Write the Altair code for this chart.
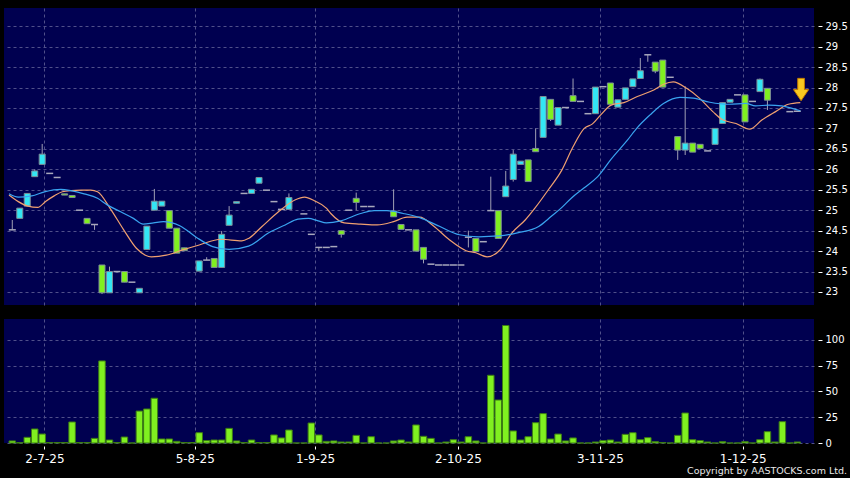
import altair as alt
import pandas as pd
import jinja2

# ---------------- data ----------------
open_ = [24.52, 24.80, 25.10, 25.82, 26.12, 25.90, 25.80, 25.40, 25.36, 25.00,
         24.80, 24.65, 23.66, 22.98, 23.50, 23.50, 23.24, 22.98, 24.04, 25.00,
         25.10, 24.99, 24.56, 24.08, None, 23.51, 23.78, 23.82, 23.60, 24.63,
         25.17, 25.41, 25.41, 25.66, 25.49, 25.21, 25.02, 25.02, None, 24.91,
         24.41, 24.09, 24.09, 24.11, 24.50, 25.00, 25.29, 25.09, 25.09, None,
         None, 24.98, 24.65, 24.52, 24.52, 24.09, 23.68, 23.66, 23.66, 23.66,
         23.66, 24.34, 24.31, 24.23, 24.99, 24.99, 25.33, 25.75, 26.12, 26.23,
         26.51, 26.78, 27.71, 27.08, 27.51, 27.80, 27.66, 27.36, 27.36, 28.02,
         28.11, 27.52, 27.71, 28.02, 28.22, 28.80, 28.62, 28.67, 28.25, 26.80,
         26.47, 26.64, 26.61, 26.45, 26.61, 27.12, 27.64, 27.82, 27.82, 27.66,
         27.90, 27.98, None, None, 27.41, 27.42]
high = [24.76, 25.05, 25.41, 26.00, 26.62, 25.90, 25.80, 25.40, 25.36, 25.00,
        24.80, 24.65, 23.66, 23.62, 23.50, 23.50, 23.24, 23.09, 24.61, 25.52,
        25.22, 24.99, 24.56, 24.08, None, 23.76, 23.85, 23.82, 24.49, 25.10,
        25.21, 25.41, 25.51, 25.80, 25.49, 25.21, 25.02, 25.41, None, 24.91,
        24.41, 24.09, 24.09, 24.11, 24.50, 25.00, 25.43, 25.09, 25.09, None,
        None, 25.51, 24.65, 24.52, 24.52, 24.09, 23.68, 23.66, 23.66, 23.66,
        23.66, 24.50, 24.31, 24.23, 25.82, 24.99, 25.96, 26.47, 26.20, 26.23,
        27.00, 27.78, 27.71, 27.51, 27.51, 28.22, 27.66, 27.36, 28.01, 28.02,
        28.11, 27.70, 27.99, 28.21, 28.72, 28.80, 28.62, 28.67, 28.25, 26.80,
        28.03, 26.64, 26.61, 26.45, 27.00, 27.63, 27.71, 27.82, 27.82, 27.66,
        28.22, 27.98, None, None, 27.41, 27.42]
low = [24.52, 24.80, 25.10, 25.82, 26.12, 25.90, 25.80, 25.37, 25.31, 25.00,
       24.67, 24.52, 22.95, 22.98, 23.50, 23.24, 23.24, 22.98, 24.04, 25.00,
       25.10, 24.56, 23.95, 24.01, None, 23.51, 23.78, 23.60, 23.60, 24.63,
       25.17, 25.41, 25.41, 25.66, 25.49, 25.21, 25.02, 25.02, None, 24.91,
       24.41, 24.00, 24.09, 24.11, 24.33, 25.00, 25.00, 25.09, 25.09, None,
       None, 24.84, 24.53, 24.52, 24.00, 23.70, 23.68, 23.66, 23.66, 23.66,
       23.66, 24.09, 23.99, 24.23, 24.99, 24.31, 25.33, 25.70, 26.12, 25.70,
       26.43, 26.78, 27.18, 27.08, 27.51, 27.66, 27.66, 27.36, 27.36, 28.02,
       27.59, 27.52, 27.71, 28.02, 28.22, 28.63, 28.35, 28.01, 28.25, 26.23,
       26.35, 26.42, 26.51, 26.45, 26.61, 27.12, 27.64, 27.82, 27.16, 27.66,
       27.90, 27.45, None, None, 27.41, 27.42]
close = [24.52, 25.05, 25.41, 25.96, 26.37, 25.90, 25.80, 25.37, 25.31, 25.00,
         24.67, 24.65, 22.98, 23.50, 23.50, 23.24, 23.24, 23.09, 24.61, 25.22,
         25.22, 24.56, 23.95, 24.01, None, 23.76, 23.78, 23.60, 24.41, 24.88,
         25.21, 25.41, 25.51, 25.80, 25.49, 25.21, 25.02, 25.31, None, 24.91,
         24.41, 24.09, 24.09, 24.11, 24.41, 25.00, 25.19, 25.09, 25.09, None,
         None, 24.84, 24.53, 24.52, 24.00, 23.80, 23.68, 23.66, 23.66, 23.66,
         23.66, 24.34, 23.99, 24.23, 24.99, 24.31, 25.59, 26.37, 26.20, 25.70,
         26.43, 27.78, 27.22, 27.51, 27.51, 27.66, 27.66, 27.36, 28.01, 28.02,
         27.59, 27.70, 27.99, 28.21, 28.41, 28.80, 28.40, 28.01, 28.25, 26.47,
         26.64, 26.42, 26.51, 26.45, 27.00, 27.63, 27.71, 27.82, 27.16, 27.66,
         28.20, 27.69, None, None, 27.41, 27.42]
volume = [2.0, 0.3, 5.5, 13.6, 8.7, 0.5, 0.5, 0.5, 20.4, 0.5,
          0.5, 4.5, 79.6, 2.9, 0.5, 5.8, 0.0, 31.0, 33.0, 43.4,
          3.9, 3.9, 1.6, 0.5, 0.5, 10.0, 2.3, 2.9, 2.9, 14.2,
          2.0, 0.5, 2.9, 0.5, 0.5, 7.8, 4.9, 12.6, 0.0, 0.0,
          19.4, 7.8, 1.6, 2.0, 1.0, 1.0, 7.4, 0.0, 6.1, 0.0,
          0.0, 2.0, 2.9, 1.0, 17.5, 6.5, 4.5, 0.0, 1.0, 3.2,
          1.0, 6.1, 2.0, 0.0, 65.7, 41.7, 114.0, 11.7, 2.9, 6.1,
          19.7, 28.5, 3.9, 8.7, 2.0, 4.9, 0.0, 0.0, 1.0, 2.3,
          2.9, 1.0, 8.4, 10.0, 3.2, 5.2, 1.3, 0.5, 0.0, 7.4,
          29.1, 3.2, 2.3, 1.0, 0.0, 1.3, 0.0, 0.0, 1.3, 0.0,
          3.2, 11.0, 1.0, 20.7, 0.0, 1.0]

# moving averages (read at sample points, x in bar-index units)
ma_short_x = [-0.44, 0.8, 2.1, 3.4, 4.5, 5.6, 6.7, 7.9, 9.2, 10.5, 11.4, 13.1, 14.9,
              16.6, 17.8, 18.6, 20.6, 22.8, 25.0, 27.9, 30.7, 31.6, 33.4, 35.6, 37.8,
              39.1, 40.4, 42.0, 42.6, 44.4, 46.6, 48.8, 51.0, 52.8, 54.5, 56.3, 58.5,
              60.7, 62.0, 63.5, 65.3, 66.8, 68.6, 69.9, 71.7, 73.5, 75.0, 76.5, 77.6,
              78.7, 80.1, 81.8, 83.6, 85.8, 87.1, 88.4, 90.2, 91.9, 93.7, 95.0, 96.8,
              98.6, 100.3, 102.1, 103.8, 105.4]
ma_short_y = [25.37, 25.21, 25.10, 25.07, 25.22, 25.35, 25.45, 25.48, 25.49, 25.49, 25.45, 25.04, 24.52,
              24.07, 23.90, 23.86, 23.90, 24.03, 24.15, 24.29, 24.25, 24.31, 24.60, 24.96, 25.25,
              25.32, 25.23, 25.05, 24.92, 24.69, 24.66, 24.64, 24.72, 24.83, 24.83, 24.62, 24.27,
              24.01, 23.96, 23.86, 24.04, 24.44, 24.76, 25.05, 25.50, 25.98, 26.55, 27.00, 27.11,
              27.33, 27.57, 27.63, 27.78, 27.94, 28.08, 28.14, 27.98, 27.74, 27.41, 27.21, 27.12,
              26.98, 27.21, 27.41, 27.59, 27.63]
ma_long_x = [-0.44, 0.8, 2.6, 4.3, 6.5, 7.8, 9.6, 11.4, 12.7, 14.5, 16.2, 17.5, 18.9,
             20.2, 22.4, 24.6, 26.8, 29.0, 31.6, 34.3, 36.5, 38.2, 39.6, 40.9, 42.0,
             43.95, 46.6, 48.4, 50.1, 52.3, 54.5, 57.2, 59.8, 62.4, 65.1, 67.7, 70.4,
             72.1, 73.4, 74.8, 76.5, 78.3, 80.1, 82.3, 83.6, 85.3, 87.1, 89.3, 91.1,
             93.3, 95.9, 98.1, 99.4, 101.2, 102.9, 104.3, 105.4]
ma_long_y = [25.40, 25.32, 25.35, 25.45, 25.51, 25.48, 25.40, 25.29, 25.13, 24.96, 24.80, 24.66, 24.69,
             24.72, 24.62, 24.34, 24.11, 24.04, 24.12, 24.45, 24.64, 24.78, 24.80, 24.74, 24.69,
             24.74, 24.92, 24.99, 24.99, 24.92, 24.82, 24.60, 24.40, 24.35, 24.37, 24.45, 24.60,
             24.85, 25.05, 25.30, 25.55, 25.82, 26.25, 26.72, 27.02, 27.33, 27.61, 27.76, 27.74,
             27.64, 27.59, 27.61, 27.55, 27.57, 27.55, 27.49, 27.43]

tick_pos = [4.3, 24.4, 40.5, 59.6, 78.6, 97.7]
tick_lbl = ["2-7-25", "5-8-25", "1-9-25", "2-10-25", "3-11-25", "1-12-25"]
price_ticks = [23, 23.5, 24, 24.5, 25, 25.5, 26, 26.5, 27, 27.5, 28, 28.5, 29, 29.5]
vol_ticks = [0, 25, 50, 75, 100]
price_domain = [22.682, 29.944]
vol_domain = [0, 120.3]
x_domain = [-0.44, 106.56]
marker_x = [105.5]
marker_y = [27.95]
copyright = ["Copyright by AASTOCKS.com Ltd."]

# ---------------- styling ----------------
BG = "#000000"
PANEL = "#000050"
GRID = "#50508a"
CYAN = "#33e6f4"
GREEN = "#80f020"
WICK = "#a0a0b4"
FLAT = "#a8a8bc"
ORANGE = "#f0a070"
BLUE = "#3aa4f0"
FONT = "DejaVu Sans"

n = len(volume)
df = pd.DataFrame({"i": list(range(n)), "o": open_, "h": high, "l": low, "c": close, "v": volume})


def kind(r):
    if pd.isna(r["o"]):
        return None
    if r["c"] > r["o"]:
        return "up"
    if r["c"] < r["o"]:
        return "down"
    return "flat"


df["kind"] = df.apply(kind, axis=1)
candles = df.dropna(subset=["o"])
bodies = candles[candles["kind"] != "flat"]
flats = candles[candles["kind"] == "flat"]

xscale = alt.Scale(domain=x_domain, nice=False, zero=False)
pscale = alt.Scale(domain=price_domain, nice=False, zero=False)
vscale = alt.Scale(domain=vol_domain, nice=False, zero=False)

x_price_axis = alt.Axis(values=tick_pos, labels=False, ticks=False, domain=False,
                        grid=True, title=None)
y_price_axis = alt.Axis(orient="right", values=price_ticks, format="~g", offset=4,
                        tickSize=4, labelPadding=3, labelFontSize=10, grid=True,
                        domain=False, title=None)

label_expr = " : ".join(
    f"abs(datum.value - {p}) < 0.01 ? '{l}'" for p, l in zip(tick_pos, tick_lbl)
) + " : ''"
x_vol_axis = alt.Axis(values=tick_pos, labelExpr=label_expr, grid=True, ticks=True,
                      tickSize=3, offset=3, labelPadding=4, labelFontSize=12,
                      domain=False, title=None)
y_vol_axis = alt.Axis(orient="right", values=vol_ticks, offset=4, tickSize=4,
                      labelPadding=3, labelFontSize=10, grid=True, domain=False,
                      title=None)

W = 810

wicks = alt.Chart(candles).mark_rule(color=WICK, strokeWidth=1).encode(
    x=alt.X("i:Q", scale=xscale, axis=x_price_axis),
    y=alt.Y("l:Q", scale=pscale, axis=y_price_axis),
    y2="h:Q",
)
body = alt.Chart(bodies).mark_bar(size=6, stroke="#7c8c96", strokeWidth=1).encode(
    x=alt.X("i:Q", scale=xscale, axis=x_price_axis),
    y=alt.Y("o:Q", scale=pscale, axis=y_price_axis),
    y2="c:Q",
    color=alt.Color("kind:N", scale=alt.Scale(domain=["up", "down"], range=[CYAN, GREEN]),
                    legend=None),
)
flat = alt.Chart(flats).mark_tick(orient="horizontal", size=7, thickness=1.5,
                                  color=FLAT, opacity=1).encode(
    x=alt.X("i:Q", scale=xscale, axis=x_price_axis),
    y=alt.Y("c:Q", scale=pscale, axis=y_price_axis),
)
ma_short = alt.Chart(pd.DataFrame({"x": ma_short_x, "y": ma_short_y})).mark_line(
    color=ORANGE, strokeWidth=1.2, interpolate="monotone").encode(
    x=alt.X("x:Q", scale=xscale, axis=x_price_axis),
    y=alt.Y("y:Q", scale=pscale, axis=y_price_axis),
)
ma_long = alt.Chart(pd.DataFrame({"x": ma_long_x, "y": ma_long_y})).mark_line(
    color=BLUE, strokeWidth=1.2, interpolate="monotone").encode(
    x=alt.X("x:Q", scale=xscale, axis=x_price_axis),
    y=alt.Y("y:Q", scale=pscale, axis=y_price_axis),
)
arrow_path = "M -0.3 -1 L 0.3 -1 L 0.3 0 L 0.68 0 L 0 1 L -0.68 0 L -0.3 0 Z"
arrow = alt.Chart(pd.DataFrame({"x": marker_x, "y": marker_y})).mark_point(
    shape=arrow_path, size=500, filled=True, fill="#f8c820", stroke="#c07800",
    strokeWidth=1, opacity=1).encode(
    x=alt.X("x:Q", scale=xscale, axis=x_price_axis),
    y=alt.Y("y:Q", scale=pscale, axis=y_price_axis),
)

price = alt.layer(wicks, body, flat, ma_short, ma_long, arrow).properties(width=W, height=297)

vbars = alt.Chart(df).mark_bar(size=6.5, color=GREEN, stroke="#3c7c14", strokeWidth=1).encode(
    x=alt.X("i:Q", scale=xscale, axis=x_vol_axis),
    y=alt.Y("v:Q", scale=vscale, axis=y_vol_axis),
)
ctext = alt.Chart(pd.DataFrame({"t": copyright})).mark_text(
    align="right", baseline="middle", fontSize=9.5, color="#e8e8e8", font=FONT).encode(
    x=alt.value(843), y=alt.value(152), text="t:N")

vol = alt.layer(vbars, ctext).properties(width=W, height=124)

chart = alt.vconcat(price, vol, spacing=14).properties(
    background=BG,
    padding={"left": 4, "top": 8, "right": 0, "bottom": 0},
).configure_view(stroke=None, fill=PANEL).configure_axis(
    labelColor="#ffffff", tickColor="#ffffff", gridColor=GRID, gridDash=[3, 3],
    gridWidth=1, labelFont=FONT,
)

EMBED = {"renderer": "svg", "actions": False}
page = chart.to_html(embed_options=EMBED)
page = page.replace(
    "<head>",
    "<head><style>html,body{margin:0;padding:0;background:#000000;overflow:hidden;}</style>",
    1,
)
tpl = jinja2.Template("{% raw %}" + page + "{% endraw %}")
chart.save("out.html", embed_options=EMBED, template=tpl)
